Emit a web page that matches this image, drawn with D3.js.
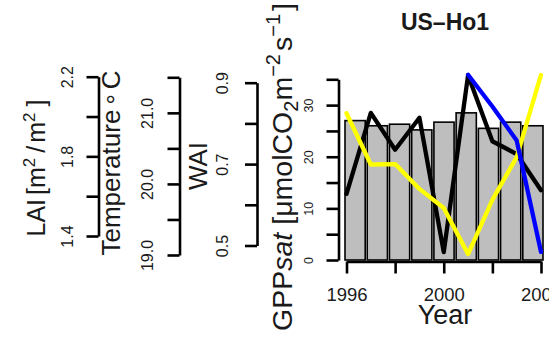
<!DOCTYPE html>
<html>
<head>
<meta charset="utf-8">
<script src="https://cdn.jsdelivr.net/npm/d3@7"></script>
<style>
  html, body { margin: 0; padding: 0; background: #fff; }
  svg { display: block; }
  text { font-family: "Liberation Sans", Arial, Helvetica, sans-serif; fill: #1a1a1a; }
</style>
</head>
<body>
<svg id="chart" width="549" height="337"></svg>
<script>
// ---- data ----
const years = [1996, 1997, 1998, 1999, 2000, 2001, 2002, 2003, 2004];
const gppsat = [27.0, 26.0, 26.3, 25.2, 26.7, 28.5, 25.5, 26.7, 26.0];          // grey bars
const temperature = [19.86, 21.00, 20.48, 20.93, 19.04, 21.53, 20.60, 20.42, 19.91]; // black line
const wai = [0.825, 0.699, 0.700, 0.639, 0.592, 0.479, 0.612, 0.717, 0.919];   // yellow line
const laiYears = [2001, 2002, 2003, 2004];
const lai = [2.21, 2.05, 1.88, 1.32];                                           // blue line

const yearTicks = [1996, 1998, 2000, 2002, 2004];
const yearLabels = [1996, 2000, 2004];
const laiTicks = [1.4, 1.6, 1.8, 2.0, 2.2];
const laiLabels = [1.4, 1.8, 2.2];
const tempTicks = [19.0, 19.5, 20.0, 20.5, 21.0, 21.5];
const tempLabels = [19.0, 20.0, 21.0];
const waiTicks = [0.5, 0.6, 0.7, 0.8, 0.9];
const waiLabels = [0.5, 0.7, 0.9];
const gppTicks = [0, 5, 10, 15, 20, 25, 30, 35];
const gppLabels = [0, 10, 20, 30];

const title = "US\u2013Ho1";

// ---- layout ----
const svg = d3.select("#chart");
const x = d3.scaleLinear().domain([1996, 2004]).range([346.5, 541]);
const xBand = d3.scaleBand().domain(years).range([345, 543]).paddingInner(0.0909).paddingOuter(0);
const yGpp = d3.scaleLinear().domain([0, 35]).range([260, 79.3]);
const yLai = d3.scaleLinear().domain([1.4, 2.2]).range([236, 76.7]);
const yTemp = d3.scaleLinear().domain([19.0, 21.5]).range([255, 77.3]);
const yWai = d3.scaleLinear().domain([0.5, 0.9]).range([245.5, 82.7]);

// bars
svg.append("g").selectAll("rect").data(years).join("rect")
  .attr("x", d => xBand(d))
  .attr("width", xBand.bandwidth())
  .attr("y", (d, i) => yGpp(gppsat[i]))
  .attr("height", (d, i) => yGpp(0) - yGpp(gppsat[i]))
  .attr("fill", "#bebebe")
  .attr("stroke", "#000")
  .attr("stroke-width", 1.6);

// lines
function drawLine(xs, vals, scale, color) {
  const line = d3.line().x((d, i) => x(xs[i])).y(d => scale(d));
  svg.append("path").datum(vals)
    .attr("d", line)
    .attr("fill", "none")
    .attr("stroke", color)
    .attr("stroke-width", 4.3)
    .attr("stroke-linejoin", "round")
    .attr("stroke-linecap", "round");
}
drawLine(years, temperature, yTemp, "#000000");
drawLine(years, wai, yWai, "#ffff00");
drawLine(laiYears, lai, yLai, "#0000ff");

// y axes
function yAxis(scale, ticks, labels, fmt, axisX, labelOffset, fontSize) {
  const g = svg.append("g").attr("transform", `translate(${axisX},0)`)
    .call(d3.axisLeft(scale).tickValues(ticks).tickSize(12).tickSizeOuter(0)
      .tickFormat(d => labels.some(l => Math.abs(l - d) < 1e-9) ? fmt(d) : ""));
  g.select(".domain").attr("stroke", "#000").attr("stroke-width", 2.6);
  g.selectAll(".tick line").attr("stroke", "#000").attr("stroke-width", 2.6);
  g.selectAll(".tick text")
    .attr("x", null).attr("dy", null)
    .attr("transform", `translate(${-labelOffset},0) rotate(-90)`)
    .attr("text-anchor", "middle")
    .attr("dy", "0.36em")
    .attr("font-size", fontSize)
    .attr("font-family", null)
    .attr("fill", "#1a1a1a");
  return g;
}
yAxis(yLai, laiTicks, laiLabels, d3.format(".1f"), 98.5, 31, 16);
yAxis(yTemp, tempTicks, tempLabels, d3.format(".1f"), 179.5, 32, 16);
yAxis(yWai, waiTicks, waiLabels, d3.format(".1f"), 257, 34.5, 16);
yAxis(yGpp, gppTicks, gppLabels, d3.format("d"), 338.5, 30.5, 12.5);

// x axis
const gx = svg.append("g").attr("transform", "translate(0,261.5)")
  .call(d3.axisBottom(x).tickValues(yearTicks).tickSize(12).tickSizeOuter(0)
    .tickFormat(d => yearLabels.includes(d) ? String(d) : ""));
gx.select(".domain").attr("stroke", "#000").attr("stroke-width", 2.6);
gx.selectAll(".tick line").attr("stroke", "#000").attr("stroke-width", 2.6);
gx.selectAll(".tick text")
  .attr("y", 39.5).attr("dy", null)
  .attr("font-size", 18.5).attr("font-family", null).attr("fill", "#1a1a1a");

// titles
svg.append("text").attr("x", 445).attr("y", 30).attr("text-anchor", "middle")
  .attr("font-size", 23).attr("font-weight", "bold").text(title);

svg.append("text").attr("x", 445).attr("y", 324).attr("text-anchor", "middle")
  .attr("font-size", 27).text("Year");

// LAI title
const tLai = svg.append("text").attr("transform", "translate(45,168) rotate(-90)")
  .attr("text-anchor", "middle").attr("font-size", 25);
tLai.append("tspan").text("LAI");
tLai.append("tspan").attr("dx", 4).text("[m");
tLai.append("tspan").attr("font-size", 17).attr("dy", -10).text("2");
tLai.append("tspan").attr("dy", 10).attr("dx", 5).text("/");
tLai.append("tspan").attr("dx", 3).text("m");
tLai.append("tspan").attr("font-size", 17).attr("dy", -10).text("2");
tLai.append("tspan").attr("dy", 10).attr("dx", 6).text("]");

// Temperature title
const tT = svg.append("text").attr("transform", "translate(120,163) rotate(-90)")
  .attr("text-anchor", "middle").attr("font-size", 26);
tT.append("tspan").text("Temperature");
tT.append("tspan").attr("dx", 5).attr("dy", 5).text("\u00b0");
tT.append("tspan").attr("dx", 5).attr("dy", -5).text("C");

// WAI title
svg.append("text").attr("transform", "translate(207,166) rotate(-90)")
  .attr("text-anchor", "middle").attr("font-size", 26).text("WAI");

// GPPsat title
const tG = svg.append("text").attr("transform", "translate(292,167) rotate(-90)")
  .attr("text-anchor", "middle").attr("font-size", 28.5);
tG.append("tspan").text("GPP");
tG.append("tspan").attr("font-style", "italic").text("sat");
tG.append("tspan").attr("dx", 8).text("[\u03bcmolCO");
tG.append("tspan").attr("font-size", 20).attr("dy", 6).text("2");
tG.append("tspan").attr("dy", -6).text("m");
tG.append("tspan").attr("font-size", 20).attr("dy", -12).text("\u22122");
tG.append("tspan").attr("dy", 12).attr("dx", 3).text("s");
tG.append("tspan").attr("font-size", 20).attr("dy", -12).text("\u22121");
tG.append("tspan").attr("dy", 12).attr("dx", 3).text("]");
</script>
</body>
</html>
